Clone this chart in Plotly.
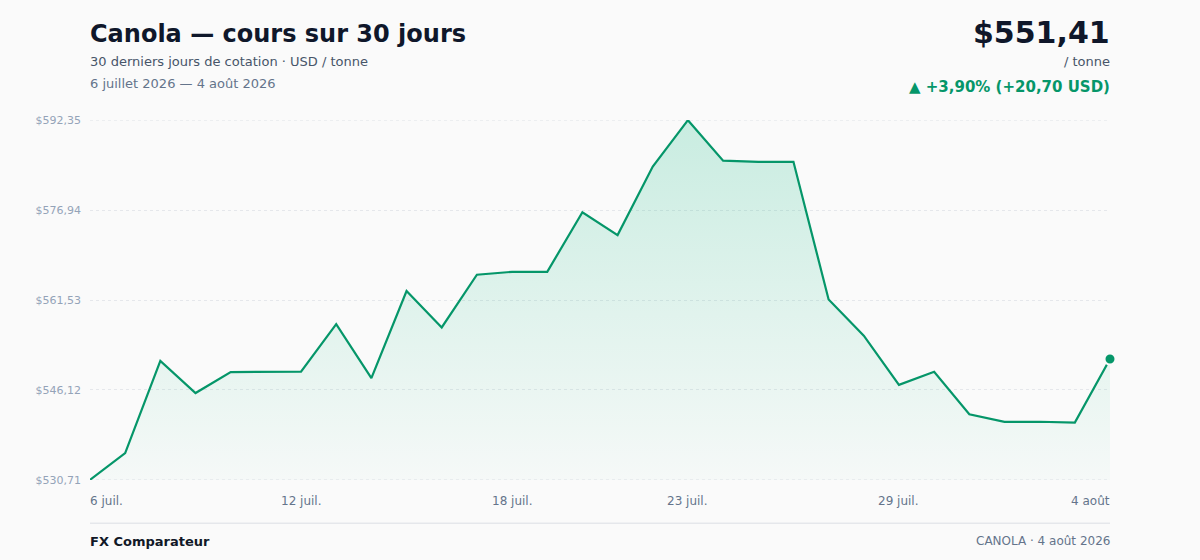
import plotly.graph_objects as go

# 30 jours calendaires, cours USD / tonne
dates = [
    "2026-07-06", "2026-07-07", "2026-07-08", "2026-07-09", "2026-07-10",
    "2026-07-11", "2026-07-12", "2026-07-13", "2026-07-14", "2026-07-15",
    "2026-07-16", "2026-07-17", "2026-07-18", "2026-07-19", "2026-07-20",
    "2026-07-21", "2026-07-22", "2026-07-23", "2026-07-24", "2026-07-25",
    "2026-07-26", "2026-07-27", "2026-07-28", "2026-07-29", "2026-07-30",
    "2026-07-31", "2026-08-01", "2026-08-02", "2026-08-03", "2026-08-04",
]
prix = [
    530.71, 535.30, 551.09, 545.58, 549.17, 549.20, 549.25, 557.39, 548.15, 563.07,
    556.82, 565.86, 566.36, 566.36, 576.57, 572.66, 584.40, 592.35, 585.42, 585.22,
    585.22, 561.62, 555.42, 546.98, 549.24, 541.94, 540.64, 540.66, 540.53, 551.41,
]

tick_dates = ["2026-07-06", "2026-07-12", "2026-07-18", "2026-07-23", "2026-07-29", "2026-08-04"]
tick_labels = ["6 juil.", "12 juil.", "18 juil.", "23 juil.", "29 juil.", "4 août"]
y_ticks = [530.71, 546.12, 561.53, 576.94, 592.35]

VERT = "#059669"
FOND = "#fafafa"
FONT = "DejaVu Sans"


def fr(v):
    return f"{v:,.2f}".replace(",", " ").replace(".", ",")


dernier, premier = prix[-1], prix[0]
delta = dernier - premier
pct = delta / premier * 100

fig = go.Figure()
fig.add_trace(go.Scatter(
    x=dates, y=prix, mode="lines",
    line=dict(color=VERT, width=2.2),
    fill="tozeroy",
    fillgradient=dict(type="vertical", start=min(prix), stop=max(prix),
                      colorscale=[[0, "rgba(16,185,129,0.02)"], [1, "rgba(16,185,129,0.21)"]]),
    hoverinfo="skip", showlegend=False,
))
fig.add_trace(go.Scatter(
    x=[dates[-1]], y=[dernier], mode="markers", cliponaxis=False,
    marker=dict(color=VERT, size=11, line=dict(color=FOND, width=2)),
    hoverinfo="skip", showlegend=False,
))

ann = []
# en-tête gauche
ann.append(dict(text="<b>Canola — cours sur 30 jours</b>", x=0, y=1, yshift=86, xshift=-2,
                xanchor="left", font=dict(size=24, color="#0f172a")))
ann.append(dict(text="30 derniers jours de cotation · USD / tonne", x=0, y=1, yshift=59, xshift=-2,
                xanchor="left", font=dict(size=13, color="#475569")))
ann.append(dict(text="6 juillet 2026 — 4 août 2026", x=0, y=1, yshift=37, xshift=-2,
                xanchor="left", font=dict(size=13, color="#64748b")))
# en-tête droite
ann.append(dict(text=f"<b>${fr(dernier)}</b>", x=1, y=1, yshift=88, xshift=2,
                xanchor="right", font=dict(size=30, color="#0f172a")))
ann.append(dict(text="/ tonne", x=1, y=1, yshift=59, xshift=2,
                xanchor="right", font=dict(size=13, color="#475569")))
ann.append(dict(text=f"<b>▲ +{fr(pct)}% (+{fr(delta)} USD)</b>", x=1, y=1, yshift=33, xshift=2,
                xanchor="right", font=dict(size=15, color=VERT)))
# pied
ann.append(dict(text="<b>FX Comparateur</b>", x=0, y=0, yshift=-61, xshift=-2,
                xanchor="left", font=dict(size=13, color="#111827")))
ann.append(dict(text="CANOLA · 4 août 2026", x=1, y=0, yshift=-61, xshift=2,
                xanchor="right", font=dict(size=12, color="#64748b")))
for a in ann:
    a.update(xref="paper", yref="paper", yanchor="middle", showarrow=False)

# étiquettes de l'axe x (ancrées comme dans l'original)
for i, (d, lab) in enumerate(zip(tick_dates, tick_labels)):
    anchor = "left" if i == 0 else ("right" if i == len(tick_dates) - 1 else "center")
    shift = -2 if i == 0 else (2 if i == len(tick_dates) - 1 else 0)
    ann.append(dict(text=lab, x=d, xref="x", y=0, yref="paper", yshift=-21, xshift=shift,
                    xanchor=anchor, yanchor="middle", showarrow=False,
                    font=dict(size=12, color="#64748b")))

# lignes de grille aux bords (Plotly ne les trace pas)
formes = [dict(type="line", xref="paper", yref="y", x0=0, x1=1, y0=v, y1=v, layer="below",
               line=dict(color="#e5e7eb", width=1, dash="dot")) for v in (y_ticks[0], y_ticks[-1])]
formes.append(dict(type="line", xref="paper", yref="paper", x0=0, x1=1, y0=-0.12, y1=-0.12,
                   line=dict(color="#e5e7eb", width=1.5)))

fig.update_layout(
    width=1200, height=560,
    margin=dict(l=90, r=90, t=120, b=80),
    paper_bgcolor=FOND, plot_bgcolor=FOND,
    font=dict(family=FONT),
    annotations=ann,
    shapes=formes,
)
fig.update_xaxes(range=[dates[0], dates[-1]], showgrid=False, showticklabels=False,
                 zeroline=False, showline=False, ticks="")
fig.update_yaxes(range=[y_ticks[0] - 0.03, y_ticks[-1] + 0.03], tickvals=y_ticks,
                 ticktext=[f"${fr(v)}" for v in y_ticks],
                 tickfont=dict(size=11, color="#94a3b8"), ticklabelstandoff=8,
                 showgrid=True, gridcolor="#e5e7eb", griddash="dot", gridwidth=1,
                 zeroline=False, showline=False, ticks="")

fig.write_html("out.html", config={"displayModeBar": False},
               post_script="document.body.style.margin='0';")
